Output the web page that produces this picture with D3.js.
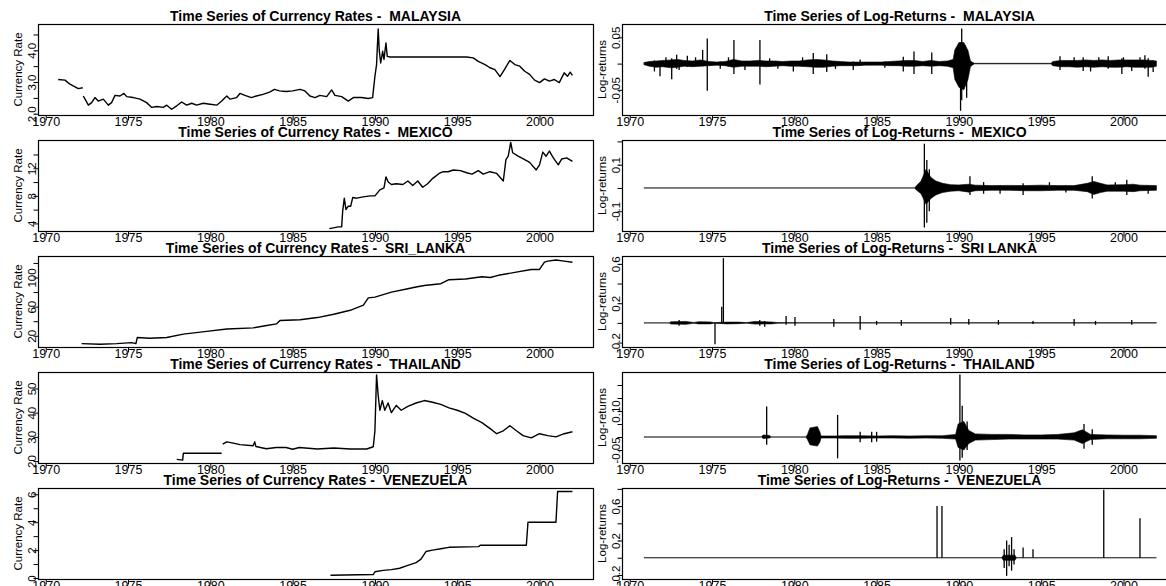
<!DOCTYPE html>
<html>
<head>
<meta charset="utf-8">
<script src="https://cdn.jsdelivr.net/npm/d3@7"></script>
<style>
  body { margin: 0; background: #fff; }
  svg { display: block; }
</style>
</head>
<body>
<svg id="chart" width="1166" height="586"></svg>
<script>
// ---- data ----
const rateCountries = ["MALAYSIA", "MEXICO", "SRI_LANKA", "THAILAND", "VENEZUELA"];
const returnCountries = ["MALAYSIA", "MEXICO", "SRI LANKA", "THAILAND", "VENEZUELA"];
const yearTicks = [1970, 1975, 1980, 1985, 1990, 1995, 2000];

// [year, rate]  (null = gap)
const malaysiaRates = [[1970.76,3.08],[1971.17,3.06],[1971.47,2.93],[1971.78,2.85],[1971.98,2.79],[1972.25,2.82],[1972.27,null],[1972.28,2.56],[1972.39,2.46],[1972.59,2.27],[1972.79,2.35],[1972.99,2.51],[1973.19,2.40],[1973.5,2.46],[1973.8,2.27],[1974.0,2.35],[1974.21,2.58],[1974.51,2.56],[1974.75,2.64],[1974.92,2.54],[1975.32,2.51],[1975.73,2.46],[1976.13,2.35],[1976.44,2.20],[1976.74,2.23],[1977.14,2.20],[1977.35,2.27],[1977.65,2.14],[1977.96,2.25],[1978.26,2.37],[1978.56,2.27],[1978.87,2.33],[1979.17,2.27],[1979.57,2.33],[1979.98,2.30],[1980.39,2.27],[1980.69,2.40],[1981.0,2.56],[1981.2,2.46],[1981.6,2.51],[1981.8,2.64],[1982.1,2.58],[1982.5,2.51],[1982.8,2.56],[1983.2,2.61],[1983.6,2.68],[1983.9,2.77],[1984.2,2.72],[1984.6,2.70],[1985.0,2.72],[1985.45,2.77],[1985.75,2.72],[1986.05,2.56],[1986.36,2.51],[1986.66,2.58],[1987.07,2.54],[1987.37,2.75],[1987.57,2.58],[1987.98,2.54],[1988.38,2.40],[1988.69,2.51],[1989.19,2.51],[1989.6,2.48],[1989.86,2.51],[1990.0,3.18],[1990.1,3.55],[1990.14,4.02],[1990.2,4.67],[1990.26,4.02],[1990.35,3.60],[1990.47,3.97],[1990.55,3.71],[1990.67,4.23],[1990.75,3.81],[1990.92,3.79],[1995.57,3.79],[1995.97,3.76],[1996.28,3.65],[1996.69,3.55],[1996.99,3.45],[1997.29,3.39],[1997.6,3.17],[1997.84,3.37],[1998.2,3.68],[1998.5,3.55],[1998.8,3.50],[1999.1,3.34],[1999.4,3.24],[1999.7,3.06],[2000.0,2.98],[2000.3,3.10],[2000.6,3.03],[2000.9,3.08],[2001.2,2.98],[2001.5,3.29],[2001.7,3.18],[2001.86,3.31],[2002.0,3.21]];
const mexicoRates = [[1987.23,3.25],[1987.47,3.36],[1987.77,3.5],[1987.98,3.5],[1988.04,5.75],[1988.14,7.66],[1988.24,6.0],[1988.38,6.5],[1988.53,6.5],[1988.65,7.75],[1988.89,7.66],[1989.29,7.85],[1989.7,8.0],[1990.0,8.0],[1990.3,8.86],[1990.55,9.16],[1990.67,10.75],[1990.81,10.0],[1991.0,9.65],[1991.3,9.76],[1991.7,9.65],[1992.0,10.15],[1992.3,9.5],[1992.6,10.15],[1992.9,9.25],[1993.2,9.76],[1993.5,10.5],[1993.9,11.25],[1994.15,11.5],[1994.45,11.5],[1994.76,11.75],[1995.2,11.65],[1995.57,11.35],[1995.9,11.15],[1996.28,11.65],[1996.58,11.15],[1996.99,11.5],[1997.4,11.25],[1997.8,10.15],[1997.96,13.25],[1998.1,13.75],[1998.25,15.75],[1998.37,14.25],[1998.7,13.75],[1999.1,13.25],[1999.4,12.85],[1999.8,11.75],[2000.0,12.5],[2000.2,14.35],[2000.4,13.75],[2000.6,14.5],[2000.84,13.5],[2001.14,12.5],[2001.35,13.35],[2001.65,13.5],[2002.0,13.0]];
const sriLankaRates = [[1972.18,9.2],[1973.3,8.3],[1974.31,9.2],[1975.22,10.6],[1975.48,9.2],[1975.56,17.6],[1976.33,16.7],[1977.35,17.6],[1978.36,22.3],[1979.78,26.0],[1981.0,29.4],[1982.6,30.8],[1983.42,34.1],[1984.03,36.4],[1984.23,41.0],[1985.45,42.0],[1986.5,45],[1987.5,49.5],[1988.5,55],[1989.3,62],[1989.6,72],[1990.0,73],[1991.0,80],[1992.0,84.5],[1992.5,87],[1993.0,89],[1994.0,91.5],[1994.5,97],[1995.5,98],[1996.5,101],[1997.0,100],[1997.5,103],[1998.5,107],[1999.5,111],[2000.0,111],[2000.3,121],[2000.5,122.5],[2001.0,124],[2001.5,122.5],[2002.0,121]];
const thailandRates = [[1977.96,20.7],[1978.32,20.4],[1978.36,23.2],[1980.69,23.2],[1980.72,null],[1980.75,27.0],[1981.0,27.95],[1981.4,27.4],[1981.8,26.8],[1982.6,26.3],[1982.7,27.95],[1982.77,26.0],[1983.4,25.1],[1984.0,25.6],[1984.6,25.6],[1985.0,24.9],[1985.4,25.6],[1986.5,25],[1987.5,25.4],[1988.5,25],[1989.5,25],[1989.9,25.9],[1990.0,32.5],[1990.1,55.6],[1990.2,47],[1990.3,41],[1990.45,45],[1990.6,41],[1990.8,44],[1991.0,40],[1991.3,43],[1991.6,41],[1992.0,42.6],[1992.5,44],[1993.0,45],[1993.5,44.3],[1994.0,43.4],[1994.5,42],[1995.0,41],[1995.5,39.7],[1996.0,37.6],[1996.5,35.9],[1997.0,33.4],[1997.4,31.3],[1997.8,32.5],[1998.2,34.6],[1998.6,32.5],[1999.0,30.5],[1999.5,29.6],[2000.0,31.3],[2000.5,30.5],[2001.0,30],[2001.5,31.3],[2002.0,32.1]];
const venezuelaRates = [[1987.3,0.2],[1989.9,0.25],[1990.0,0.45],[1990.5,0.55],[1991.0,0.6],[1991.5,0.7],[1992.0,0.9],[1992.5,1.1],[1992.8,1.35],[1993.1,1.9],[1993.5,2.0],[1994.0,2.1],[1994.5,2.2],[1996.3,2.25],[1996.4,2.35],[1999.2,2.35],[1999.3,4.0],[2001.0,4.0],[2001.1,6.2],[2002.0,6.2]];

// log-returns: dense band as [year, low, high], isolated spikes as [year, low, high]
const malaysiaBand = [[1970.86,-0.002,0.002],[1971.2,-0.005,0.004],[1971.6,-0.007,0.005],[1972.0,-0.006,0.006],[1972.5,-0.008,0.007],[1972.9,-0.007,0.008],[1973.3,-0.005,0.006],[1973.8,-0.006,0.005],[1974.3,-0.005,0.007],[1974.8,-0.004,0.004],[1975.3,-0.003,0.003],[1975.8,-0.004,0.004],[1976.3,-0.007,0.008],[1976.8,-0.005,0.005],[1977.3,-0.005,0.005],[1977.8,-0.005,0.006],[1978.3,-0.006,0.005],[1978.8,-0.005,0.005],[1979.3,-0.004,0.004],[1979.8,-0.005,0.005],[1980.3,-0.005,0.005],[1980.8,-0.006,0.007],[1981.3,-0.007,0.008],[1981.8,-0.007,0.007],[1982.3,-0.005,0.005],[1982.8,-0.004,0.004],[1983.3,-0.004,0.003],[1983.8,-0.004,0.003],[1984.3,-0.003,0.003],[1984.8,-0.003,0.003],[1985.3,-0.003,0.003],[1985.8,-0.004,0.004],[1986.3,-0.004,0.005],[1986.8,-0.005,0.006],[1987.3,-0.005,0.006],[1987.8,-0.004,0.004],[1988.3,-0.005,0.006],[1988.8,-0.004,0.004],[1989.3,-0.005,0.005],[1989.65,-0.008,0.008],[1989.75,-0.03,0.026],[1990.0,-0.045,0.04],[1990.3,-0.05,0.04],[1990.55,-0.03,0.025],[1990.7,-0.006,0.005],[1990.85,-0.002,0.002],[1990.95,-0.0005,0.0005],[1995.6,-0.0005,0.0005],[1995.7,-0.004,0.004],[1996.2,-0.006,0.006],[1996.7,-0.006,0.006],[1997.2,-0.007,0.006],[1997.7,-0.006,0.007],[1998.2,-0.007,0.006],[1998.7,-0.006,0.007],[1999.2,-0.007,0.006],[1999.7,-0.007,0.007],[2000.2,-0.006,0.007],[2000.7,-0.007,0.007],[2001.2,-0.007,0.007],[2001.7,-0.007,0.006],[2002.0,-0.005,0.005]];
const malaysiaSpikes = [[1971.5,-0.015,0.006],[1971.84,-0.024,0],[1972.2,-0.006,0.012],[1972.55,-0.03,0.01],[1972.85,-0.01,0.017],[1973.0,-0.012,0.005],[1973.5,-0.006,0.015],[1974.0,-0.005,0.012],[1974.43,-0.005,0.026],[1974.71,-0.052,0.048],[1975.5,-0.01,0.004],[1976.0,-0.005,0.012],[1976.33,-0.02,0.045],[1977.0,-0.012,0.005],[1977.91,-0.04,0.045],[1978.5,-0.005,0.01],[1979.0,-0.01,0.005],[1979.94,-0.015,0.005],[1980.5,-0.005,0.012],[1981.15,-0.02,0.02],[1981.97,-0.016,0.018],[1982.5,-0.01,0.004],[1983.58,-0.012,0.004],[1984.0,-0.004,0.008],[1985.5,-0.008,0.004],[1986.62,-0.015,0.013],[1987.27,-0.02,0.023],[1988.35,-0.02,0.021],[1989.96,-0.03,0.027],[1990.1,-0.09,0.04],[1990.17,-0.07,0.067],[1990.37,-0.03,0.035],[1990.47,-0.065,0.02],[1996.14,-0.012,0.014],[1997.0,-0.006,0.012],[1997.55,-0.014,0.012],[1998.0,-0.015,0.006],[1998.5,-0.006,0.012],[1999.07,-0.01,0.014],[1999.9,-0.02,0.01],[2000.0,-0.006,0.012],[2000.5,-0.014,0.006],[2001.0,-0.006,0.012],[2001.3,-0.01,0.016],[2001.5,-0.025,0.01],[2001.8,-0.016,0.006]];
const mexicoBand = [[1970.86,0,0],[1987.3,0,0],[1987.4,-0.008,0.008],[1987.7,-0.025,0.03],[1988.0,-0.07,0.08],[1988.3,-0.045,0.045],[1988.6,-0.03,0.03],[1989.0,-0.02,0.02],[1989.5,-0.014,0.014],[1990.0,-0.012,0.013],[1990.6,-0.018,0.016],[1991.0,-0.012,0.012],[1992.0,-0.01,0.01],[1993.0,-0.01,0.011],[1994.0,-0.012,0.01],[1995.0,-0.012,0.012],[1996.0,-0.01,0.01],[1997.0,-0.01,0.01],[1997.8,-0.016,0.02],[1998.2,-0.028,0.028],[1998.6,-0.02,0.02],[1999.0,-0.014,0.013],[2000.0,-0.014,0.014],[2000.6,-0.016,0.016],[2001.0,-0.012,0.012],[2002.0,-0.01,0.01]];
const mexicoSpikes = [[1987.9,-0.17,0.19],[1988.05,-0.15,0.12],[1988.2,-0.1,0.08],[1990.67,-0.03,0.05],[1991.5,-0.025,0.025],[1992.5,-0.025,0.01],[1993.9,-0.03,0.02],[1995.5,-0.01,0.025],[1996.5,-0.02,0.01],[1998.1,-0.045,0.05],[1999.5,-0.01,0.025],[2000.2,-0.03,0.035],[2001.5,-0.025,0.01]];
const sriLankaBand = [[1970.86,0,0],[1972.4,0,0],[1972.5,-0.012,0.012],[1973.4,-0.015,0.015],[1973.9,-0.004,0.004],[1974.2,-0.01,0.012],[1974.9,-0.01,0.01],[1975.1,-0.003,0.003],[1975.9,-0.01,0.008],[1976.6,-0.008,0.008],[1977.1,-0.003,0.003],[1977.6,-0.012,0.015],[1978.6,-0.01,0.01],[1979.0,-0.003,0.003],[1980.3,-0.002,0.002],[2002.0,-0.002,0.002]];
const sriLankaSpikes = [[1973.0,-0.03,0.03],[1975.18,-0.217,0],[1975.59,0,0.165],[1975.69,0,0.658],[1977.9,-0.03,0.03],[1978.2,-0.04,0.02],[1979.5,-0.02,0.07],[1980.04,-0.03,0.06],[1982.4,-0.04,0.04],[1984.0,-0.07,0.07],[1985.0,-0.02,0.02],[1986.5,-0.03,0.03],[1989.5,-0.02,0.05],[1990.6,-0.02,0.04],[1992.4,-0.02,0.03],[1994.5,-0.01,0.02],[1997.0,-0.03,0.04],[1998.3,-0.02,0.02],[2000.5,-0.02,0.03]];
const thailandBand = [[1970.86,0,0],[1978.0,0,0],[1978.1,-0.006,0.008],[1978.5,-0.004,0.006],[1978.6,0,0],[1980.7,0,0],[1980.8,-0.01,0.01],[1980.95,-0.03,0.035],[1981.4,-0.035,0.04],[1981.55,-0.02,0.02],[1981.62,-0.004,0.004],[1982.5,-0.004,0.004],[1983,-0.005,0.005],[1984,-0.005,0.005],[1985,-0.004,0.004],[1986,-0.004,0.005],[1987,-0.005,0.004],[1988,-0.004,0.005],[1989,-0.005,0.005],[1989.8,-0.008,0.01],[1989.95,-0.04,0.05],[1990.3,-0.05,0.06],[1990.6,-0.025,0.025],[1991,-0.012,0.012],[1992,-0.01,0.01],[1993,-0.008,0.01],[1994,-0.008,0.008],[1995,-0.008,0.008],[1996,-0.008,0.01],[1997,-0.012,0.016],[1997.5,-0.025,0.028],[1998,-0.01,0.01],[1999,-0.007,0.008],[2000,-0.007,0.007],[2001,-0.007,0.007],[2002,-0.005,0.005]];
const thailandSpikes = [[1978.32,-0.03,0.117],[1982.63,-0.082,0.085],[1984.0,-0.02,0.02],[1984.7,-0.02,0.02],[1985.0,-0.018,0.02],[1990.06,-0.09,0.24],[1990.2,-0.08,0.12],[1990.5,-0.05,0.06],[1997.6,-0.045,0.05],[1998.1,-0.03,0.03]];
const venezuelaBand = [[1970.86,0,0],[1992.6,0,0],[1992.7,-0.03,0.03],[1993.4,-0.03,0.03],[1993.5,0,0],[2002.0,0,0]];
const venezuelaSpikes = [[1988.67,0,0.6],[1988.97,0,0.6],[1992.75,-0.12,0.1],[1992.9,-0.21,0.2],[1993.05,-0.1,0.15],[1993.2,-0.15,0.24],[1993.35,-0.08,0.1],[1993.9,0,0.12],[1994.5,0,0.1],[1998.8,0,0.79],[2001.0,0,0.46]];

// axis ranges, tick values and which ticks carry a label
const rateDomains = [[1.96, 4.83], [2.9, 16.1], [4.6, 129.5], [19.2, 56.8], [-0.07, 6.45]];
const rateTicks = [[2, 2.5, 3, 3.5, 4, 4.5], [4, 6, 8, 10, 12, 14], [20, 40, 60, 80, 100, 120], [20, 30, 40, 50], [0, 1, 2, 3, 4, 5, 6]];
const rateLabels = [["2.0", "", "3.0", "", "4.0", ""], ["4", "", "8", "", "12", ""], ["20", "", "60", "", "100", ""], ["20", "30", "40", "50"], ["0", "", "2", "", "4", "", "6"]];
const returnDomains = [[-0.098, 0.0755], [-0.185, 0.206], [-0.245, 0.68], [-0.1, 0.25], [-0.247, 0.81]];
const returnTicks = [[-0.05, 0, 0.05], [-0.1, 0, 0.1, 0.2], [-0.2, 0, 0.2, 0.4, 0.6], [-0.05, 0, 0.05, 0.1, 0.15, 0.2], [-0.2, 0, 0.2, 0.4, 0.6, 0.8]];
const returnLabels = [["-0.05", "", "0.05"], ["-0.1", "", "0.1", ""], ["-0.2", "", "0.2", "", "0.6"], ["-0.05", "", "", "0.10", "", ""], ["-0.2", "", "0.2", "", "0.6", ""]];

const rateSeries = [malaysiaRates, mexicoRates, sriLankaRates, thailandRates, venezuelaRates];
const bands = [malaysiaBand, mexicoBand, sriLankaBand, thailandBand, venezuelaBand];
const spikes = [malaysiaSpikes, mexicoSpikes, sriLankaSpikes, thailandSpikes, venezuelaSpikes];

// ---- layout ----
const FONT = '"Liberation Sans", Arial, Helvetica, sans-serif';
const panelW = 555;
const panelH = 91;
const colX = [38, 622];
const xDomain = [1969.53, 2003.25];
const rowTop = i => Math.round(24 + i * 116.1);

const svg = d3.select("#chart");

function panel(x0, y0, title, ylab, domain, ticks, labels) {
    const g = svg.append("g");
    const x = d3.scaleLinear().domain(xDomain).range([x0, x0 + panelW]);
    const y = d3.scaleLinear().domain(domain).range([y0 + panelH, y0]);

    g.append("rect")
        .attr("x", x0 + 0.5)
        .attr("y", y0 + 0.5)
        .attr("width", panelW)
        .attr("height", panelH)
        .attr("fill", "none")
        .attr("stroke", "#000")
        .attr("stroke-width", 1.2);

    const xa = g.append("g")
        .attr("transform", `translate(0,${y0 + panelH + 0.5})`)
        .call(d3.axisBottom(x).tickValues(yearTicks).tickSize(5).tickFormat(d3.format("d")));
    xa.select(".domain").remove();
    xa.attr("font-family", FONT).attr("font-size", 12.5);
    xa.selectAll("text").attr("y", 1).attr("dy", "0.74em").attr("fill", "#000");

    const ya = g.append("g")
        .attr("transform", `translate(${x0 + 0.5},0)`)
        .call(d3.axisLeft(y).tickValues(ticks).tickSize(5).tickFormat((d, i) => labels[i]));
    ya.select(".domain").remove();
    ya.attr("font-family", FONT).attr("font-size", 11.5);
    ya.selectAll("text")
        .attr("x", null)
        .attr("dy", null)
        .attr("text-anchor", "middle")
        .attr("fill", "#000")
        .attr("transform", "translate(-3,0) rotate(-90)");

    g.append("text")
        .attr("x", x0 + panelW / 2)
        .attr("y", y0 - 3)
        .attr("text-anchor", "middle")
        .attr("font-family", FONT)
        .attr("font-weight", "bold")
        .attr("font-size", 14)
        .style("white-space", "pre")
        .text(title);

    g.append("text")
        .attr("transform", `translate(${x0 - 16},${y0 + panelH / 2}) rotate(-90)`)
        .attr("text-anchor", "middle")
        .attr("font-family", FONT)
        .attr("font-size", 11.5)
        .text(ylab);

    return { g, x, y };
}

for (let i = 0; i < 5; i++) {
    const top = rowTop(i);

    // currency rates
    const left = panel(colX[0], top, `Time Series of Currency Rates -  ${rateCountries[i]}`,
        "Currency Rate", rateDomains[i], rateTicks[i], rateLabels[i]);
    const line = d3.line()
        .defined(d => d[1] !== null)
        .x(d => left.x(d[0]))
        .y(d => left.y(d[1]));
    left.g.append("path")
        .datum(rateSeries[i])
        .attr("d", line)
        .attr("fill", "none")
        .attr("stroke", "#000")
        .attr("stroke-width", 1.4)
        .attr("stroke-linejoin", "round");

    // log-returns
    const right = panel(colX[1], top, `Time Series of Log-Returns -  ${returnCountries[i]}`,
        "Log-returns", returnDomains[i], returnTicks[i], returnLabels[i]);
    const area = d3.area()
        .x(d => right.x(d[0]))
        .y0(d => right.y(d[1]))
        .y1(d => right.y(d[2]));
    right.g.append("path")
        .datum(bands[i])
        .attr("d", area)
        .attr("fill", "#000")
        .attr("stroke", "#000")
        .attr("stroke-width", 0.6);
    right.g.selectAll("line.spike")
        .data(spikes[i])
        .enter()
        .append("line")
        .attr("class", "spike")
        .attr("x1", d => right.x(d[0]))
        .attr("x2", d => right.x(d[0]))
        .attr("y1", d => right.y(d[1]))
        .attr("y2", d => right.y(d[2]))
        .attr("stroke", "#000")
        .attr("stroke-width", 1.3);
}
</script>
</body>
</html>
